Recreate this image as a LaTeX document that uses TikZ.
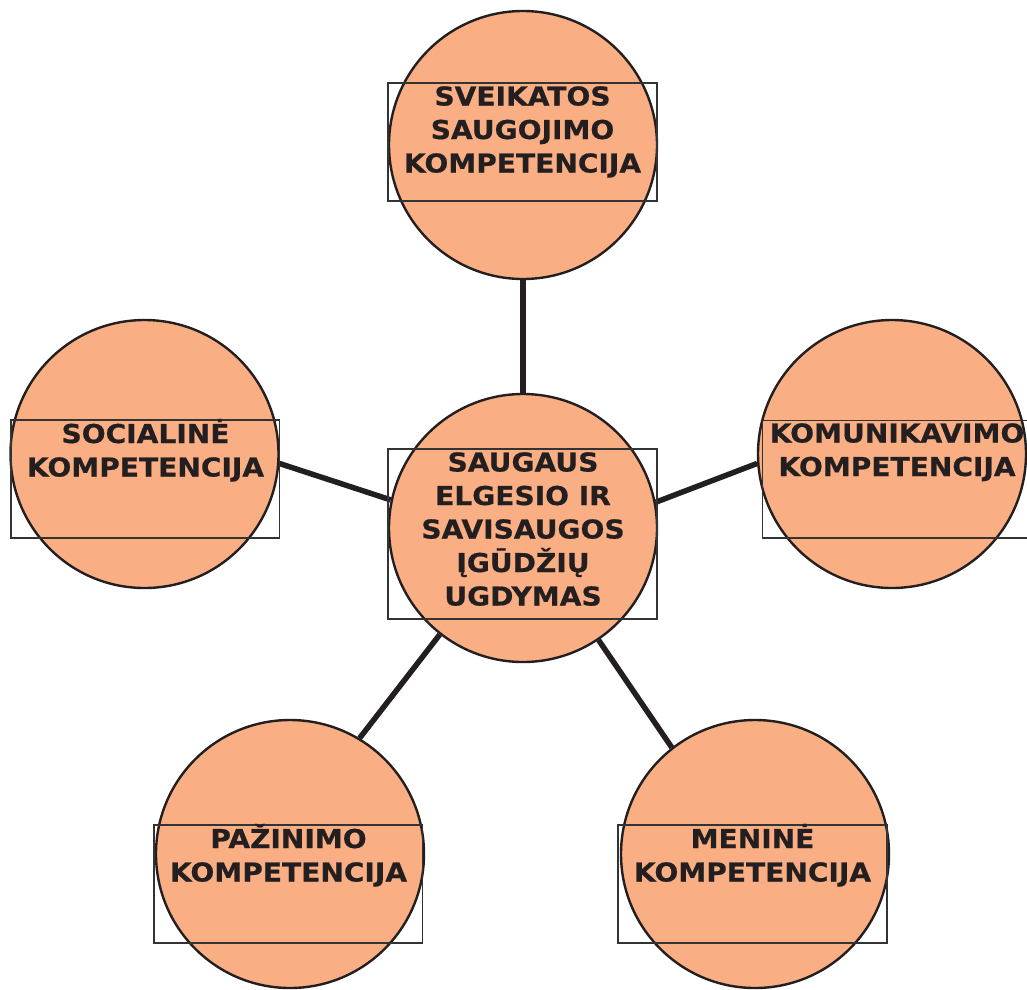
\documentclass[tikz,border=0pt]{standalone}
\usepackage{fontspec}
\newfontfamily\lbl{DejaVu Sans}[FakeStretch=1.08,FakeBold=0.6]
\usetikzlibrary{backgrounds}
\definecolor{cfill}{HTML}{F9AE83}
\definecolor{cline}{HTML}{231F20}
\definecolor{cbox}{HTML}{333333}
\tikzset{
  comp/.style={circle, draw=cline, line width=2.4pt, fill=cfill, minimum size=268pt, inner sep=0pt},
  frame/.style={rectangle, draw=cbox, line width=1.8pt, inner sep=0pt, minimum width=268.5pt, minimum height=117.5pt},
  lab/.style={anchor=base, align=center, inner sep=0pt, text=cline,
    font=\lbl\bfseries\fontsize{26pt}{33.5pt}\selectfont},
  link/.style={draw=cline, line width=5.5pt}
}
\begin{document}
\begin{tikzpicture}[x=1pt,y=-1pt]
\useasboundingbox (0,0) rectangle (1027,989);
\clip (0,0) rectangle (1027,989);
% circles
\node[comp] (top) at (523,145) {};
\node[comp] (mid) at (523,528) {};
\node[comp] (lft) at (144.5,454) {};
\node[comp] (rgt) at (892,454) {};
\node[comp] (bl) at (290,854) {};
\node[comp] (br) at (755,854) {};
% frames
\node[frame] (topbox) at (522.5,142) {};
\node[frame, minimum width=269pt, minimum height=169.5pt] (midbox) at (522.8,534) {};
\node[frame] (lftbox) at (145.3,479) {};
\node[frame] (rgtbox) at (896.8,479.2) {};
\node[frame] (blbox) at (288.3,883.9) {};
\node[frame] (brbox) at (752.5,883.9) {};
% labels (anchor = baseline of last line)
\node[lab] (toplab) at (522.5,172.5) {SVEIKATOS\\SAUGOJIMO\\KOMPETENCIJA};
\node[lab] (midlab) at (523,605.5) {SAUGAUS\\ELGESIO IR\\SAVISAUGOS\\ĮGŪDŽIŲ\\UGDYMAS};
\node[lab] (lftlab) at (145.5,476.5) {SOCIALINĖ\\KOMPETENCIJA};
\node[lab] (rgtlab) at (897,476) {KOMUNIKAVIMO\\KOMPETENCIJA};
\node[lab] (bllab) at (288.5,881.5) {PAŽINIMO\\KOMPETENCIJA};
\node[lab] (brlab) at (752.5,881.5) {MENINĖ\\KOMPETENCIJA};
% connectors
\begin{scope}[on background layer]
\draw[link] (mid.90) -- (top.270);
\draw[link] (mid.168.7) -- (lft.-4.6);
\draw[link] (mid.11.4) -- (rgt.184.3);
\draw[link] (mid.232.1) -- (bl.59.1);
\draw[link] (mid.-56.7) -- (br.128.5);
\end{scope}
\end{tikzpicture}
\end{document}
